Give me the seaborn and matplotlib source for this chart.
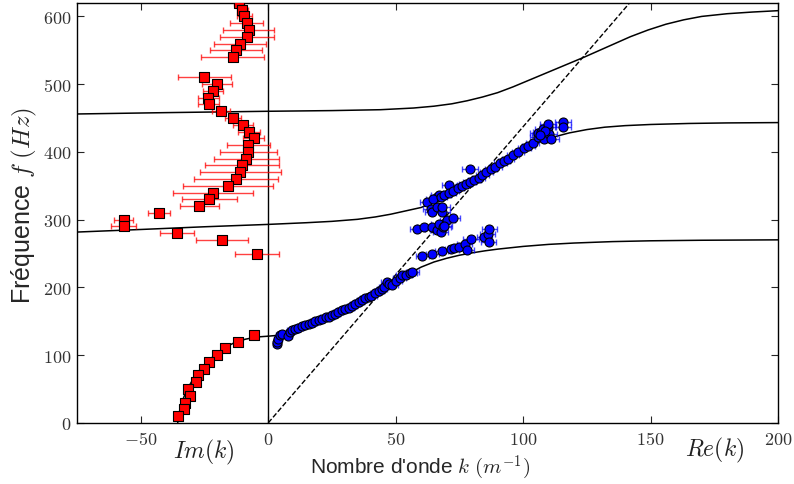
import numpy as np
import pandas as pd
import seaborn as sns
import matplotlib.pyplot as plt
from matplotlib.ticker import FuncFormatter

# --- Mesures : partie imaginaire (carres rouges) ---
im_f = [620, 610, 600, 590, 580, 570, 560, 550, 540, 510, 500, 490, 480, 470,
        460, 450, 440, 430, 420, 410, 400, 390, 380, 370, 360, 350, 340, 330,
        320, 310, 300, 290, 280, 270, 250, 130, 120, 110, 100, 90, 80, 70, 60,
        50, 40, 30, 20, 10]
im_k = [-11.4, -10.1, -9.4, -8.4, -7.7, -8.4, -11.0, -12.6, -13.9, -25.0, -20.2,
        -21.7, -23.5, -23.4, -18.5, -13.9, -9.9, -7.6, -5.7, -7.8, -7.9, -8.6,
        -10.3, -11.0, -12.7, -15.7, -21.7, -23.1, -27.0, -42.9, -56.7, -56.7,
        -35.7, -18.2, -4.5, -5.4, -11.9, -16.8, -20.2, -23.1, -25.2, -27.7,
        -28.4, -31.6, -30.5, -32.7, -33.1, -35.2]
im_kerr = [2, 2, 3, 6.4, 10, 10.5, 10.3, 10.2, 12.3, 10.5, 5.9, 4, 4, 4, 3.6, 3.1,
           3.9, 4.3, 4, 8.3, 11.2, 12.8, 14.4, 15.9, 16.5, 17.6, 15.7, 10.7, 7.5,
           4.4, 3.6, 4.9, 6.6, 10.2, 8.7, 1, 1, 1, 1, 1, 1, 1, 1, 1, 1, 1, 1, 1]

# --- Mesures : partie reelle (cercles bleus) ---
re_k = [3.3, 3.6, 3.9, 4.6, 5.5, 7.9, 8.5, 9.5, 10.5, 11.5, 13.1, 14.5, 16, 17.1,
        18.5, 19.8, 21, 22.5, 23.8, 24.9, 26, 27.5, 28.9, 30, 31.5, 32.8, 34,
        35.5, 36.7, 38, 39.4, 40.5, 42, 43.3, 44.5, 45.5, 46.6, 47.5, 48.5, 50,
        51.5, 52.5, 54, 55.8, 56.5,
        60.5, 64.4, 68.1, 71.7, 73, 75, 77, 77.8, 79.5, 84.8, 86.1, 86.7, 86.5,
        58.5, 61.2, 64.4, 66.3, 67, 67.7, 68.7, 70.3, 72.3, 69,
        62.4, 63.8, 64.4, 66.3, 68.3, 68.3, 66.3, 67, 71,
        64.5, 67.7, 69, 71, 72.5, 74.3, 76, 77.5, 79, 80.8, 82.5, 84, 85.5, 87.4,
        89, 91, 92.5, 94, 96, 98, 100.5, 102, 103.8, 79.2,
        105.7, 105.7, 107, 107.7, 108.3, 109.7, 109.7, 110.3, 111, 115.6, 115.6,
        108.5, 106.5]
re_f = [116, 120, 124, 130, 131, 129, 134, 137, 139, 140, 143, 144, 146, 148,
        150, 152, 154, 156, 157, 159, 161, 163, 166, 168, 170, 172, 175, 178,
        182, 184, 186, 188, 191, 195, 198, 201, 208, 205, 204, 209, 214, 218,
        219, 221, 222,
        246, 249, 253, 257, 258, 260, 264, 254.5, 271, 274, 279, 285.5, 267,
        286.5, 289, 289, 284, 294, 282, 289, 299, 302, 291,
        326, 316, 311, 318.6, 311, 318.6, 333.4, 336, 351.6,
        330, 333, 336, 340, 343, 346, 349, 352, 355, 358, 362, 366, 370, 375,
        378, 383, 386, 390, 395, 400, 405.6, 409, 413.6, 375,
        422, 428, 429, 434, 419.5, 436.7, 441.7, 427, 419.5, 444, 436.7,
        431, 425]
re_kerr = [1.5] * 7 + [2] * 29 + [2.5] * 9 + [2.5] * 6 + [3] * 7 + [3] * 10 + \
          [3] * 9 + [2.5] * 23 + [3] + [3] * 13

# --- Courbes theoriques ---
c1_im_k = [-35.5, -35.2, -34.6, -33.9, -32.9, -31.7, -30.2, -28.5, -26.5, -24,
           -21, -17.5, -13.5, -9, -4.5, 0]
c1_im_f = [0, 10, 20, 30, 40, 50, 60, 70, 80, 90, 100, 110, 118, 123.5, 126.8, 128]
c1_re_k = [0, 3, 6, 10, 15, 20, 25, 30, 35, 40, 45, 50, 55, 60, 65, 70, 75, 80,
           85, 90, 95, 100, 110, 120, 135, 150, 170, 200]
c1_re_f = [128, 129, 132, 137, 144, 152, 160, 168, 177, 187, 198, 210, 220, 230,
           237.5, 243, 247.5, 251, 254, 256.5, 258.5, 260.5, 263.5, 265.5, 267.6,
           268.8, 269.6, 270.2]
c2_k = [-75, -50, -25, 0, 15, 25, 35, 42, 48, 54, 60, 66, 72, 78, 84, 90, 96, 102,
        107, 112, 118, 125, 132, 140, 150, 165, 180, 200]
c2_f = [281.7, 285.5, 289.5, 293, 295.5, 297.5, 300.5, 304, 308, 313, 318, 327.5,
        341, 354, 367.5, 381, 394, 406, 415.5, 422, 428, 433, 436.5, 438.8, 440.5,
        442, 442.8, 443.3]
c3_k = [-75, -40, 0, 25, 44, 57, 65, 72, 78, 84, 90, 96, 103, 110, 117, 124, 130,
        136, 142, 149, 156, 163, 170, 180, 190, 200]
c3_f = [456, 458, 460, 461, 462.3, 464.8, 467.5, 471, 475.5, 481, 487.5, 496, 507,
        518, 529, 540, 550, 560, 570, 580, 588.5, 595, 600, 604, 606.5, 608.5]
light_k = [0, 150]
light_f = [0, 656]

# --- Style ---
sns.set_style("ticks")
plt.rcParams["font.family"] = ["Liberation Sans", "DejaVu Sans"]
plt.rcParams["mathtext.fontset"] = "cm"

fig = plt.figure(figsize=(7.94, 4.85), dpi=100)
ax = fig.add_axes([0.097, 0.126, 0.883, 0.866])

for k, f in [(c1_im_k, c1_im_f), (c1_re_k, c1_re_f), (c2_k, c2_f), (c3_k, c3_f)]:
    sns.lineplot(x=k, y=f, sort=False, estimator=None, color="black", lw=1.1,
                 ax=ax, zorder=2)
sns.lineplot(x=light_k, y=light_f, sort=False, estimator=None, color="black",
             lw=1.0, linestyle="--", dashes=(5, 4), ax=ax, zorder=2)
ax.axvline(0, color="black", lw=1.0, zorder=1)

# barres d'erreur horizontales
ax.errorbar(im_k, im_f, xerr=im_kerr, fmt="none", ecolor="red", alpha=0.75,
            elinewidth=1.0, capsize=2.5, capthick=1.0, zorder=3)
ax.errorbar(re_k, re_f, xerr=re_kerr, fmt="none", ecolor="blue", alpha=0.7,
            elinewidth=1.0, capsize=2.5, capthick=1.0, zorder=3)

df_im = pd.DataFrame({"k": im_k, "f": im_f})
df_re = pd.DataFrame({"k": re_k, "f": re_f})
sns.scatterplot(data=df_im, x="k", y="f", marker="s", color="red",
                edgecolor="black", linewidth=0.8, s=45, ax=ax, zorder=4)
sns.scatterplot(data=df_re, x="k", y="f", marker="o", color="blue",
                edgecolor="black", linewidth=0.8, s=42, ax=ax, zorder=4)

ax.set_xlim(-75, 200)
ax.set_ylim(0, 620)
ax.set_xticks([-50, 0, 50, 100, 150, 200])
ax.set_yticks([0, 100, 200, 300, 400, 500, 600])
fmt = FuncFormatter(lambda v, pos: f"${v:g}$")
ax.xaxis.set_major_formatter(fmt)
ax.yaxis.set_major_formatter(fmt)
ax.tick_params(direction="in", top=True, right=True, length=5, width=0.8,
               labelsize=13, labelcolor="#333333")
ax.tick_params(axis="x", pad=6)
ax.tick_params(axis="y", pad=4)
for sp in ax.spines.values():
    sp.set_linewidth(1.0)
    sp.set_color("black")

ax.set_xlabel(r"Nombre d'onde $k$ $(m^{-1})$", fontsize=15)
ax.set_ylabel(r"Fréquence $f$ $(Hz)$", fontsize=18)
ax.xaxis.set_label_coords(0.489, -0.072)
ax.yaxis.set_label_coords(-0.054, 0.52)

tr = ax.get_xaxis_transform()
ax.text(-25.4, -0.067, r"$Im(k)$", transform=tr, ha="center", va="center",
        fontsize=17, color="#222222")
ax.text(175, -0.064, r"$Re(k)$", transform=tr, ha="center", va="center",
        fontsize=17, color="#222222")

fig.savefig("out.png", dpi=100)
